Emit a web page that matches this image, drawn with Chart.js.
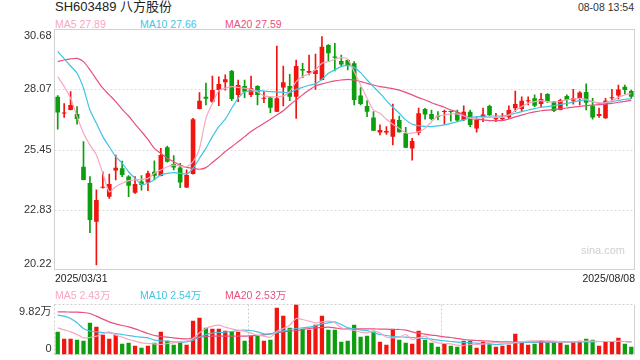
<!DOCTYPE html>
<html>
<head>
<meta charset="utf-8">
<script src="https://cdn.jsdelivr.net/npm/chart.js@4.4.1/dist/chart.umd.min.js"></script>
<style>
  html, body { margin: 0; padding: 0; background: #fff; }
  #wrap { position: relative; width: 640px; height: 360px; overflow: hidden;
          font-family: "Liberation Sans", Arial, "Noto Sans CJK SC", sans-serif; }
  .t { position: absolute; white-space: nowrap; line-height: 14px; font-size: 10.5px; }
  canvas { position: absolute; left: 0; }
</style>
</head>
<body>
<div id="wrap">
  <div class="t" id="title" style="left:55px;top:0px;font-size:13px;color:#222;"></div>
  <div class="t" id="time" style="right:6px;top:0px;color:#333;"></div>
  <div class="t" id="ma5l" style="left:55px;top:17px;"></div>
  <div class="t" id="ma10l" style="left:140px;top:17px;"></div>
  <div class="t" id="ma20l" style="left:225px;top:17px;"></div>
  <canvas id="main" width="640" height="280" style="top:0;"></canvas>
  <div class="t" id="d0" style="left:55px;top:271px;color:#222;"></div>
  <div class="t" id="d1" style="right:5px;top:271px;color:#222;"></div>
  <div class="t" id="v5l" style="left:55px;top:288px;"></div>
  <div class="t" id="v10l" style="left:140px;top:288px;"></div>
  <div class="t" id="v20l" style="left:225px;top:288px;"></div>
  <canvas id="vol" width="640" height="80" style="top:280px;"></canvas>
  <div class="t" style="left:581px;top:243px;font-size:11px;color:#cfcfcf;">sina.com</div>
</div>
<script>
const stockName = 'SH603489 八方股份';
const timeText = '08-08 13:54';

const dates = [
 '2025/03/31','2025/04/01','2025/04/02','2025/04/03','2025/04/07','2025/04/08','2025/04/09','2025/04/10','2025/04/11','2025/04/14',
 '2025/04/15','2025/04/16','2025/04/17','2025/04/18','2025/04/21','2025/04/22','2025/04/23','2025/04/24','2025/04/25','2025/04/28',
 '2025/04/29','2025/04/30','2025/05/06','2025/05/07','2025/05/08','2025/05/09','2025/05/12','2025/05/13','2025/05/14','2025/05/15',
 '2025/05/16','2025/05/19','2025/05/20','2025/05/21','2025/05/22','2025/05/23','2025/05/26','2025/05/27','2025/05/28','2025/05/29',
 '2025/05/30','2025/06/03','2025/06/04','2025/06/05','2025/06/06','2025/06/09','2025/06/10','2025/06/11','2025/06/12','2025/06/13',
 '2025/06/16','2025/06/17','2025/06/18','2025/06/19','2025/06/20','2025/06/23','2025/06/24','2025/06/25','2025/06/26','2025/06/27',
 '2025/06/30','2025/07/01','2025/07/02','2025/07/03','2025/07/04','2025/07/07','2025/07/08','2025/07/09','2025/07/10','2025/07/11',
 '2025/07/14','2025/07/15','2025/07/16','2025/07/17','2025/07/18','2025/07/21','2025/07/22','2025/07/23','2025/07/24','2025/07/25',
 '2025/07/28','2025/07/29','2025/07/30','2025/07/31','2025/08/01','2025/08/04','2025/08/05','2025/08/06','2025/08/07','2025/08/08'
];

const openP = [
 27.75,27.02,27.17,27.00,24.70,23.99,22.30,23.78,23.39,24.53,
 24.63,24.27,23.57,24.05,24.01,24.48,24.30,25.55,24.82,24.67,
 23.79,24.38,27.22,27.75,27.53,28.04,28.38,28.87,27.83,28.22,
 27.83,28.22,27.66,27.72,27.10,28.15,28.22,27.75,28.96,28.80,
 28.74,28.48,30.00,29.50,29.31,29.35,29.21,27.80,27.35,26.85,
 26.19,26.19,26.01,26.74,26.16,25.49,26.18,27.22,27.00,26.91,
 27.08,27.12,27.06,26.74,27.09,26.36,26.85,27.35,26.77,26.77,
 26.86,27.25,27.22,27.55,27.68,27.43,27.87,27.53,27.17,27.78,
 27.57,27.68,27.96,27.35,26.91,26.81,27.68,27.80,28.19,28.00
];
const highP = [
 27.80,27.45,27.97,27.32,25.79,24.27,23.69,24.48,24.38,25.21,
 24.95,24.31,24.27,24.31,24.51,24.96,25.50,25.60,25.18,24.85,
 24.56,26.81,27.93,28.34,28.65,28.62,28.70,28.90,28.48,28.48,
 28.65,28.24,27.97,27.74,29.96,29.09,28.73,29.35,29.21,29.57,
 29.61,30.37,30.02,30.08,29.57,29.37,29.28,28.15,27.58,27.10,
 26.52,26.45,27.43,26.91,26.42,25.94,27.25,27.24,27.17,27.10,
 27.17,27.14,27.17,27.35,27.17,26.85,27.25,27.39,27.03,27.03,
 27.35,28.00,27.75,27.75,27.83,27.90,27.89,27.55,27.65,27.83,
 28.07,27.97,28.31,27.68,27.25,27.68,28.07,28.26,28.26,28.04
];
const lowP = [
 26.34,26.85,27.17,26.55,24.12,21.83,20.42,23.76,23.32,24.12,
 24.27,23.39,23.54,23.68,23.66,24.12,24.30,24.90,24.56,23.79,
 23.79,24.38,27.22,27.39,27.49,27.36,28.04,27.58,27.53,27.71,
 27.75,27.39,27.49,27.06,27.10,27.35,27.58,26.81,28.58,28.70,
 28.07,28.48,29.32,28.87,29.06,28.92,27.39,27.39,26.88,26.27,
 26.08,26.11,25.65,26.20,25.53,24.99,26.08,26.77,26.74,26.74,
 26.55,26.69,26.66,26.71,26.45,26.20,26.66,26.91,26.66,26.73,
 26.81,27.10,27.10,27.39,27.32,27.29,27.49,27.10,27.17,27.35,
 27.43,27.39,27.17,26.77,26.85,26.81,27.61,27.65,27.87,27.68
];
const closeP = [
 27.06,27.06,27.39,26.78,24.12,22.38,23.25,23.80,23.95,24.66,
 24.34,23.87,23.95,23.90,24.41,24.31,25.21,24.92,24.67,24.01,
 24.34,26.77,27.57,27.66,28.04,28.31,28.51,27.65,28.26,27.97,
 28.12,27.83,27.70,27.27,27.68,28.38,27.75,29.09,28.89,28.87,
 28.92,29.93,29.64,29.45,29.16,29.09,27.61,27.43,27.10,26.27,
 26.30,26.26,26.77,26.20,25.53,25.82,27.03,26.98,26.78,26.88,
 27.12,27.08,26.71,27.10,26.52,26.74,26.98,26.95,26.85,26.84,
 27.17,27.43,27.57,27.57,27.36,27.65,27.53,27.13,27.61,27.61,
 27.68,27.93,27.49,26.85,27.00,27.57,27.72,28.07,28.04,27.75
];

const ma5 = [
 28.63,28.19,27.68,26.88,26.16,25.65,25.21,24.41,23.61,23.83,
 23.98,24.09,24.12,24.15,24.19,24.41,24.56,24.70,24.77,24.73,
 24.70,24.92,25.50,26.81,27.46,28.02,28.12,28.19,28.16,28.12,
 28.07,27.97,27.78,27.75,27.75,27.78,27.97,28.41,28.63,28.74,
 28.92,29.21,29.28,29.38,29.45,29.38,28.84,28.26,27.68,27.17,
 27.03,26.77,26.55,26.37,26.18,26.16,26.23,26.37,26.66,26.91,
 26.95,27.00,27.00,26.91,26.81,26.81,26.84,26.85,26.85,26.85,
 26.95,27.14,27.32,27.46,27.54,27.58,27.54,27.52,27.55,27.61,
 27.65,27.68,27.64,27.54,27.49,27.49,27.58,27.72,27.83,27.89
];
const ma10 = [
 29.72,29.41,29.09,28.77,28.12,27.17,26.59,26.01,25.57,25.14,
 24.85,24.48,24.19,23.93,23.98,24.15,24.34,24.41,24.44,24.41,
 24.38,24.63,25.07,25.50,26.01,26.45,26.77,27.25,27.68,27.97,
 28.00,28.02,28.00,27.97,27.96,27.94,27.93,28.07,28.16,28.25,
 28.31,28.51,28.77,28.92,29.06,29.12,29.03,28.80,28.48,28.19,
 27.90,27.58,27.29,27.03,26.74,26.55,26.49,26.46,26.45,26.48,
 26.52,26.59,26.66,26.74,26.85,26.88,26.90,26.91,26.91,26.91,
 26.95,27.03,27.10,27.17,27.23,27.29,27.32,27.36,27.41,27.46,
 27.52,27.58,27.61,27.52,27.46,27.49,27.54,27.59,27.64,27.66
];
const ma20 = [
 29.28,29.35,29.40,29.42,29.28,28.92,28.51,28.12,27.83,27.54,
 27.20,26.91,26.56,26.23,25.89,25.50,25.28,25.07,24.92,24.77,
 24.67,24.63,24.59,24.66,24.88,25.11,25.36,25.57,25.79,26.01,
 26.23,26.42,26.59,26.77,26.95,27.14,27.39,27.61,27.83,28.04,
 28.22,28.31,28.38,28.44,28.48,28.51,28.48,28.41,28.33,28.26,
 28.19,28.15,28.10,28.04,27.94,27.83,27.71,27.61,27.49,27.39,
 27.29,27.17,27.09,26.95,26.81,26.77,26.74,26.71,26.71,26.71,
 26.78,26.87,26.95,27.03,27.09,27.14,27.17,27.19,27.22,27.26,
 27.30,27.33,27.36,27.38,27.41,27.43,27.46,27.51,27.55,27.59
];

const priceTicks = [30.68, 28.07, 25.45, 22.83, 20.22];

const volume = [
 4.45,3.08,3.08,2.88,2.68,6.22,5.43,3.86,3.08,3.86,
 2.10,2.29,1.70,1.31,1.70,2.29,4.45,2.68,1.90,2.49,
 1.90,6.61,7.20,5.24,5.04,5.04,4.65,4.45,4.45,2.68,
 3.67,3.67,2.68,2.88,9.17,7.59,5.24,9.82,5.04,4.84,
 5.83,7.59,4.84,4.84,2.49,2.68,5.83,3.47,3.67,4.65,
 2.49,1.90,5.04,2.88,2.29,2.10,4.65,2.88,2.29,1.51,
 2.10,1.70,1.51,2.68,2.68,1.31,2.49,2.00,1.51,1.70,
 1.90,4.06,2.29,1.90,2.10,2.68,2.29,2.29,2.29,1.90,
 2.49,2.68,3.08,2.88,1.70,2.49,2.49,3.27,2.10,1.51
];
const volMa5 = [
 5.24,4.84,4.45,3.93,3.27,3.34,3.60,4.06,4.45,3.80,
 3.40,2.95,2.62,2.29,2.16,2.10,1.96,2.16,2.29,2.49,
 2.62,3.14,4.26,5.11,5.56,5.76,5.37,5.04,4.78,4.58,
 4.19,3.80,3.60,3.40,4.58,5.11,5.76,7.07,6.87,6.55,
 6.22,6.42,6.55,6.22,5.24,4.91,4.71,4.39,4.26,4.58,
 4.26,3.40,3.27,3.40,3.93,2.95,3.27,3.60,2.75,2.29,
 2.16,2.10,1.83,1.77,1.96,1.96,2.03,2.42,2.36,2.23,
 2.10,2.36,2.49,2.62,2.68,2.75,2.68,2.62,2.49,2.49,
 2.49,2.55,2.62,2.62,2.55,2.55,2.55,2.62,2.55,2.43
];
const volMa10 = [
 7.73,7.53,7.07,6.22,5.11,4.58,4.45,4.32,4.26,4.12,
 3.93,3.73,3.54,3.40,3.27,2.82,2.68,2.62,2.49,2.42,
 2.49,2.82,3.40,3.93,4.19,4.32,4.39,4.52,4.71,4.78,
 4.71,4.45,4.06,4.06,4.32,4.65,4.91,5.11,5.24,5.37,
 5.63,6.02,6.22,6.42,5.89,5.24,5.04,4.84,4.71,4.32,
 3.93,3.73,3.54,3.47,3.40,3.34,3.27,3.14,3.01,2.82,
 2.68,2.55,2.42,2.36,2.29,2.23,2.16,2.10,1.96,2.03,
 2.16,2.29,2.36,2.42,2.42,2.49,2.49,2.49,2.49,2.49,
 2.49,2.49,2.49,2.49,2.55,2.55,2.55,2.55,2.55,2.54
];
const volMa20 = [
 8.38,8.38,8.31,8.31,8.25,8.05,7.53,6.94,6.42,6.02,
 5.70,5.43,5.04,4.58,4.12,3.73,3.54,3.40,3.27,3.14,
 3.08,3.27,3.40,3.54,3.60,3.60,3.60,3.60,3.60,3.60,
 3.67,3.73,3.86,4.06,4.26,4.45,4.58,4.71,4.91,5.11,
 5.24,5.30,5.37,5.24,5.04,5.04,5.04,5.04,5.04,5.04,
 4.98,4.98,4.91,4.91,4.78,4.45,4.19,3.99,3.80,3.67,
 3.47,3.34,3.14,2.95,2.82,2.75,2.68,2.62,2.55,2.49,
 2.49,2.42,2.42,2.42,2.42,2.42,2.42,2.42,2.49,2.49,
 2.49,2.55,2.55,2.55,2.55,2.55,2.55,2.55,2.55,2.53
];

const RED = '#f0150f', GREEN = '#0c9e0c';
const C5 = '#f8a6c1', C10 = '#3fc4e4', C20 = '#e8517e';
const FONT = '"Liberation Sans", Arial, "Noto Sans CJK SC", sans-serif';

const last = a => a[a.length - 1];
const up = openP.map((o, i) => closeP[i] >= o);
const candleColors = up.map(u => u ? RED : GREEN);

document.getElementById('title').textContent = stockName;
document.getElementById('time').textContent = timeText;
const setL = (id, txt, col) => { const e = document.getElementById(id); e.textContent = txt; e.style.color = col; };
setL('ma5l', 'MA5 ' + last(ma5).toFixed(2), C5);
setL('ma10l', 'MA10 ' + last(ma10).toFixed(2), C10);
setL('ma20l', 'MA20 ' + last(ma20).toFixed(2), C20);
setL('v5l', 'MA5 ' + last(volMa5).toFixed(2) + '万', C5);
setL('v10l', 'MA10 ' + last(volMa10).toFixed(2) + '万', C10);
setL('v20l', 'MA20 ' + last(volMa20).toFixed(2) + '万', C20);
document.getElementById('d0').textContent = dates[0];
document.getElementById('d1').textContent = last(dates);

const lineDs = (data, color) => ({
  type: 'line', data, borderColor: color, borderWidth: 1.2, pointRadius: 0,
  tension: 0.25, fill: false, order: 0
});

const priceMin = Math.min(...priceTicks), priceMax = Math.max(...priceTicks);

const mainPlugin = {
  id: 'mainDeco',
  beforeDatasetsDraw(chart) {
    const { ctx, chartArea: a, scales: { y } } = chart;
    ctx.save();
    ctx.strokeStyle = '#dcdcdc';
    ctx.lineWidth = 1;
    ctx.setLineDash([2, 2]);
    priceTicks.forEach((v, i) => {
      if (i === 0 || i === priceTicks.length - 1) return;
      const py = Math.round(y.getPixelForValue(v)) + 0.5;
      ctx.beginPath(); ctx.moveTo(a.left, py); ctx.lineTo(a.right, py); ctx.stroke();
    });
    ctx.restore();
  },
  afterDraw(chart) {
    const { ctx, chartArea: a, scales: { y } } = chart;
    ctx.save();
    ctx.strokeStyle = '#d2d2d2';
    ctx.lineWidth = 1;
    ctx.strokeRect(a.left, a.top, a.right - a.left, a.bottom - a.top);
    ctx.fillStyle = '#333';
    ctx.font = '11px ' + FONT;
    ctx.textAlign = 'right';
    ctx.textBaseline = 'middle';
    priceTicks.forEach((v, i) => {
      let py = y.getPixelForValue(v);
      if (i === 0) py += 6;
      else if (i === priceTicks.length - 1) py -= 6;
      ctx.fillText(v.toFixed(2), a.left - 3, py);
    });
    ctx.restore();
  }
};

new Chart(document.getElementById('main'), {
  type: 'bar',
  data: {
    labels: dates,
    datasets: [
      lineDs(ma5, C5),
      lineDs(ma10, C10),
      lineDs(ma20, C20),
      {
        type: 'bar', data: lowP.map((l, i) => [l, highP[i]]),
        backgroundColor: candleColors, barThickness: 1, grouped: false,
        minBarLength: 1, order: 2
      },
      {
        type: 'bar', data: openP.map((o, i) => [o, closeP[i]]),
        backgroundColor: candleColors, barPercentage: 0.72, categoryPercentage: 1,
        grouped: false, minBarLength: 1, order: 1
      }
    ]
  },
  options: {
    responsive: false, animation: false, devicePixelRatio: 1,
    layout: { padding: { left: 54.5, right: 5.5, top: 29.5, bottom: 10.5 } },
    plugins: { legend: { display: false }, tooltip: { enabled: false } },
    scales: {
      x: { display: false, offset: true },
      y: { display: false, min: priceMin, max: priceMax }
    }
  },
  plugins: [mainPlugin]
});

const volMax = Math.max(...volume);
const volPlugin = {
  id: 'volDeco',
  beforeDatasetsDraw(chart) {
    const { ctx, chartArea: a } = chart;
    ctx.save();
    ctx.strokeStyle = '#cfcfcf';
    ctx.lineWidth = 1;
    ctx.setLineDash([2, 2]);
    const hl = (py) => { ctx.beginPath(); ctx.moveTo(a.left, py); ctx.lineTo(a.right, py); ctx.stroke(); };
    const vl = (px) => { ctx.beginPath(); ctx.moveTo(px, a.top); ctx.lineTo(px, a.bottom); ctx.stroke(); };
    hl(a.top); hl(a.bottom);
    vl(a.left);
    const w = a.right - a.left;
    vl(Math.round(a.left + w / 3) + 0.5);
    vl(Math.round(a.left + 2 * w / 3) + 0.5);
    ctx.setLineDash([]);
    ctx.strokeStyle = '#d2d2d2';
    vl(a.right);
    ctx.restore();
  },
  afterDraw(chart) {
    const { ctx, chartArea: a, scales: { y } } = chart;
    ctx.save();
    ctx.fillStyle = '#333';
    ctx.font = '11px ' + FONT;
    ctx.textAlign = 'right';
    ctx.textBaseline = 'middle';
    ctx.fillText(volMax.toFixed(2) + '万', a.left - 3, y.getPixelForValue(volMax) + 7);
    ctx.fillText('0', a.left - 3, y.getPixelForValue(0) - 5.5);
    ctx.restore();
  }
};

new Chart(document.getElementById('vol'), {
  type: 'bar',
  data: {
    labels: dates,
    datasets: [
      lineDs(volMa5, C5),
      lineDs(volMa10, C10),
      lineDs(volMa20, C20),
      {
        type: 'bar', data: volume, backgroundColor: candleColors,
        barPercentage: 0.66, categoryPercentage: 1, order: 1
      }
    ]
  },
  options: {
    responsive: false, animation: false, devicePixelRatio: 1,
    layout: { padding: { left: 54.5, right: 5.5, top: 24.5, bottom: 5.5 } },
    plugins: { legend: { display: false }, tooltip: { enabled: false } },
    scales: {
      x: { display: false, offset: true },
      y: { display: false, min: 0, max: volMax }
    }
  },
  plugins: [volPlugin]
});
</script>
</body>
</html>
